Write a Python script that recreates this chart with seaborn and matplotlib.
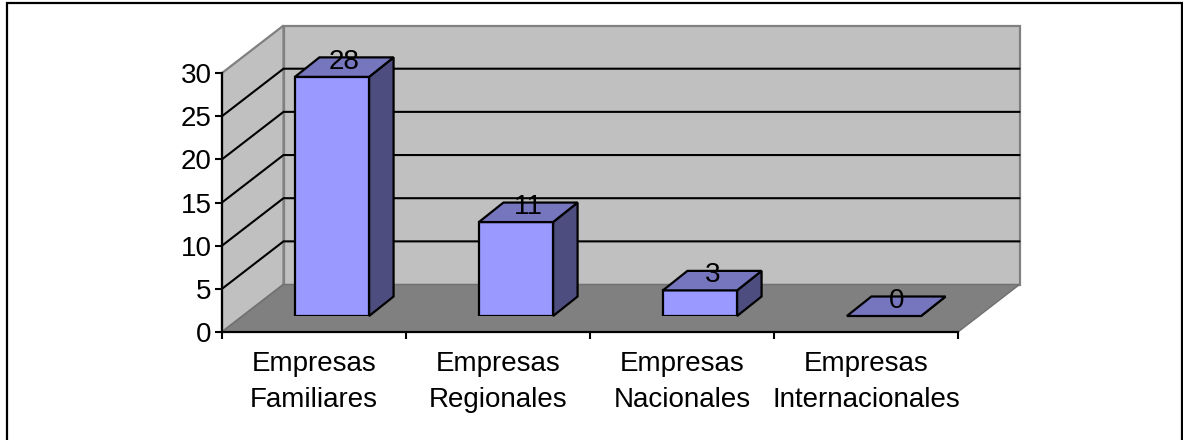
import matplotlib
matplotlib.use("Agg")
import matplotlib.pyplot as plt
from matplotlib.patches import Polygon, Rectangle
import pandas as pd
import seaborn as sns

categorias = ["Empresas\nFamiliares", "Empresas\nRegionales", "Empresas\nNacionales", "Empresas\nInternacionales"]
valores = [28, 11, 3, 0]
y_ticks = [0, 5, 10, 15, 20, 25, 30]

W, H = 1183, 440
sns.set_theme(style="white")
plt.rcParams["font.family"] = ["Liberation Sans", "DejaVu Sans"]
fs = 20

fig = plt.figure(figsize=(W / 100, H / 100), dpi=100)
fig.patch.set_facecolor("white")
# outer frame runs off the bottom of the picture
fig.add_artist(Rectangle((6.7 / W, -0.1), (1182 - 6.7) / W, 1.1 - 3.4 / H, transform=fig.transFigure,
                         fill=False, edgecolor="black", lw=1.6))

def rect_px(x0, x1, y_top, y_bot):
    return [x0 / W, 1 - y_bot / H, (x1 - x0) / W, (y_bot - y_top) / H]

# main axes = front plane of the fake 3d box
ax = fig.add_axes(rect_px(222, 958, 73, 332))
ax.set_xlim(-0.5, 3.5)
ax.set_ylim(0, 30)
ax.patch.set_alpha(0)

# depth of the box in data units
dx = 61.5 / 184
dy = 47.5 / 8.64
x0, x1 = -0.5, 3.5
ax.add_patch(Polygon([(x0 + dx, dy), (x1 + dx, dy), (x1 + dx, 30 + dy), (x0 + dx, 30 + dy)],
                     fc="#C0C0C0", ec="#808080", lw=1.6, clip_on=False, zorder=1))
ax.add_patch(Polygon([(x0, 0), (x0 + dx, dy), (x0 + dx, 30 + dy), (x0, 30)],
                     fc="#C0C0C0", ec="#808080", lw=1.6, clip_on=False, zorder=1))
ax.add_patch(Polygon([(x0, 0), (x1, 0), (x1 + dx, dy), (x0 + dx, dy)],
                     fc="#808080", ec="#707070", lw=1, clip_on=False, zorder=1.5))
# gridlines, wall and side wall
for t in y_ticks[1:-1]:
    ax.plot([x0, x0 + dx, x1 + dx], [t, t + dy, t + dy], color="black", lw=1.5,
            clip_on=False, zorder=2, solid_joinstyle="miter")

sns.despine(ax=ax, top=True, right=True)
for s in ["left", "bottom"]:
    ax.spines[s].set_color("black")
    ax.spines[s].set_linewidth(1.6)
    ax.spines[s].set_zorder(3)
ax.set_yticks(y_ticks)
ax.set_xticks([-0.5, 0.5, 1.5, 2.5, 3.5])
ax.set_xticklabels([])
ax.set_xticks(range(4), categorias, minor=True)
ax.tick_params(axis="x", which="major", length=5, width=1.5, color="black", bottom=True)
ax.tick_params(axis="x", which="minor", length=0, pad=13.5, labelsize=fs, labelcolor="black")
ax.tick_params(axis="y", length=5, width=1.5, color="black", left=True, pad=2.5, labelsize=fs, labelcolor="black")
for lab in ax.get_xticklabels(minor=True):
    lab.set_linespacing(1.5)

# bars sit a bit inside the box, so they get their own shifted axes
ax_b = fig.add_axes(rect_px(222 + 18, 958 + 18, 316 - 30 * 8.54, 316))
df = pd.DataFrame({"categoria": categorias, "valor": valores})
sns.barplot(data=df, x="categoria", y="valor", ax=ax_b, color="#9999FF", saturation=1,
            width=0.403, edgecolor="black", linewidth=1.6, zorder=5)
ax_b.set_xlim(-0.5, 3.5)
ax_b.set_ylim(0, 30)
ax_b.axis("off")

bw = 0.403 / 2
bdx = 24.5 / 184
bdy = 19.5 / 8.54
for i, v in enumerate(valores):
    ax_b.add_patch(Polygon([(i + bw, 0), (i + bw + bdx, bdy), (i + bw + bdx, v + bdy), (i + bw, v)],
                           fc="#4D4D80", ec="black", lw=1.6, clip_on=False, zorder=4))
    ax_b.add_patch(Polygon([(i - bw, v), (i + bw, v), (i + bw + bdx, v + bdy), (i - bw + bdx, v + bdy)],
                           fc="#7676BE", ec="black", lw=1.6, clip_on=False, zorder=6))
    ax_b.annotate(str(v), (i + bdx / 2, v + bdy / 2), xytext=(0, 4), textcoords="offset points",
                  ha="center", va="center", fontsize=fs, color="black", zorder=7, annotation_clip=False)

fig.savefig("out.png", dpi=100)
